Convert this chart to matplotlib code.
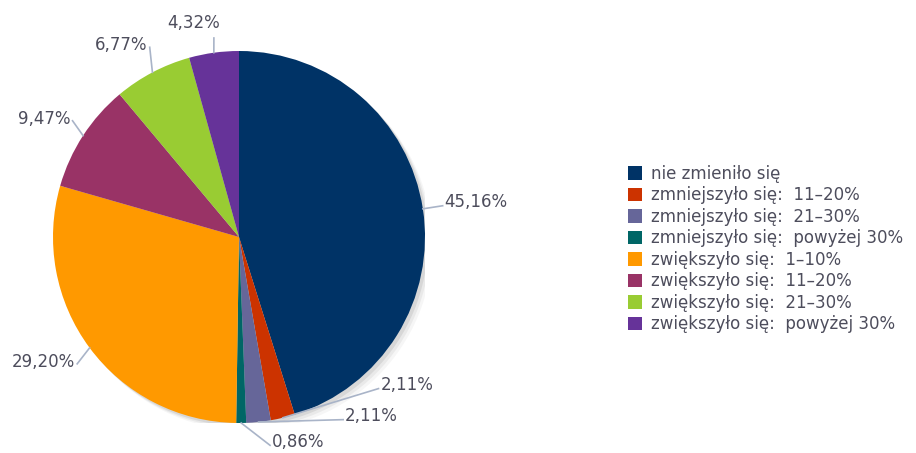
import matplotlib.pyplot as plt
import numpy as np
from matplotlib.patches import Circle

# data
categories = ['nie zmieniło się',
              'zmniejszyło się:  11–20%',
              'zmniejszyło się:  21–30%',
              'zmniejszyło się:  powyżej 30%',
              'zwiększyło się:  1–10%',
              'zwiększyło się:  11–20%',
              'zwiększyło się:  21–30%',
              'zwiększyło się:  powyżej 30%']
values = [45.16, 2.11, 2.11, 0.86, 29.20, 9.47, 6.77, 4.32]
colors = ['#003366', '#cc3300', '#666699', '#006666',
          '#ff9900', '#993366', '#99cc33', '#663399']

# label text positions (pie radius units) and alignment
label_pos = [(1.105, 0.188), (0.76, -0.795), (0.57, -0.962), (0.177, -1.10),
             (-0.88, -0.672), (-0.905, 0.635), (-0.49, 1.03), (-0.245, 1.15)]
label_ha = ['left', 'left', 'left', 'left', 'right', 'right', 'right', 'center']

txt_color = '#4d4d5c'
line_color = '#a9b4c8'

fig = plt.figure(figsize=(9.16, 4.53), dpi=100)
W, H = 916, 453
cx, cy, r = 239, 237, 186
ax = fig.add_axes([(cx - r) / W, (H - cy - r) / H, 2 * r / W, 2 * r / H])
ax.axis('off')

# soft shadow
for off, a in [(0.04, 0.05), (0.028, 0.08), (0.016, 0.12)]:
    ax.add_patch(Circle((off, -off), 1.0, color='#555555', alpha=a, lw=0, zorder=0))

wedges, _ = ax.pie(values, colors=colors, startangle=90, counterclock=False,
                   radius=1.0, wedgeprops=dict(linewidth=0))
ax.set_xlim(-1, 1)
ax.set_ylim(-1, 1)
ax.set_aspect('equal')

for w in wedges:
    w.set_zorder(2)

for w, v, (tx, ty), ha in zip(wedges, values, label_pos, label_ha):
    mid = np.deg2rad((w.theta1 + w.theta2) / 2)
    ex, ey = np.cos(mid), np.sin(mid)
    # leader end just short of text
    if ha == 'left':
        lx, ly = tx - 0.01, ty - 0.02
    elif ha == 'right':
        lx, ly = tx + 0.01, ty - 0.01
    else:
        lx, ly = tx + 0.11, ty - 0.08
    ax.plot([ex, lx], [ey, ly], color=line_color, lw=1.2, zorder=3, clip_on=False)
    ax.text(tx, ty, ('%.2f%%' % v).replace('.', ','), ha=ha, va='center',
            fontsize=12, color=txt_color, zorder=4, clip_on=False)

leg = fig.legend(wedges, categories, loc='upper left',
                 bbox_to_anchor=(621 / W, 1 - 158 / H), frameon=False,
                 fontsize=12, handlelength=0.85, handleheight=0.85,
                 handletextpad=0.55, labelspacing=0.21, borderaxespad=0)
for t in leg.get_texts():
    t.set_color(txt_color)

fig.savefig('out.png', dpi=100)
